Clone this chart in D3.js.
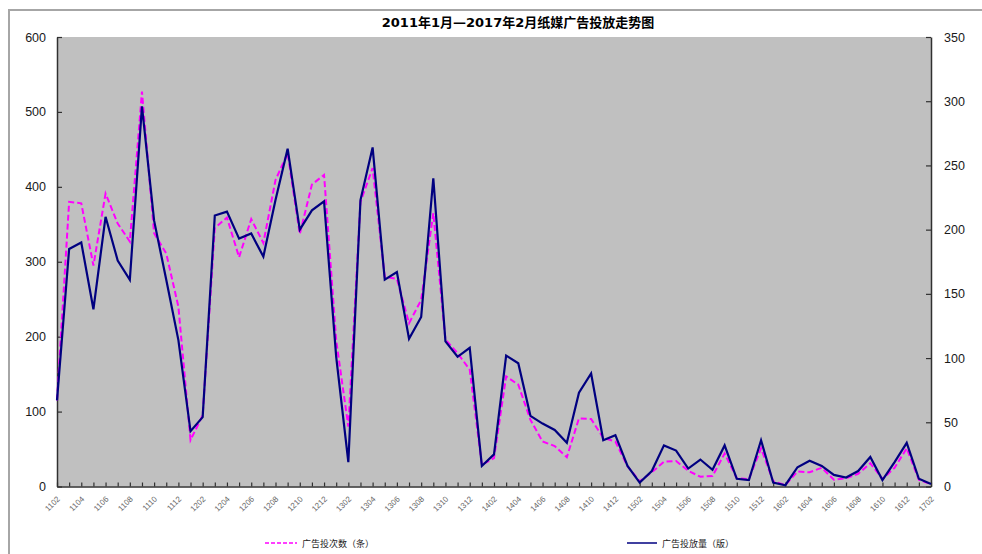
<!DOCTYPE html>
<html>
<head>
<meta charset="utf-8">
<script src="https://cdn.jsdelivr.net/npm/d3@7"></script>
<style>
  body { margin: 0; background: #fff; }
  svg { display: block; font-family: "DejaVu Sans", Verdana, sans-serif; }
</style>
</head>
<body>
<div id="chart"></div>
<script>
// Month labels (YYMM), 2011-02 .. 2017-02
const months = [
  "1102","1103","1104","1105","1106","1107","1108","1109","1110","1111","1112",
  "1201","1202","1203","1204","1205","1206","1207","1208","1209","1210","1211","1212",
  "1301","1302","1303","1304","1305","1306","1307","1308","1309","1310","1311","1312",
  "1401","1402","1403","1404","1405","1406","1407","1408","1409","1410","1411","1412",
  "1501","1502","1503","1504","1505","1506","1507","1508","1509","1510","1511","1512",
  "1601","1602","1603","1604","1605","1606","1607","1608","1609","1610","1611","1612",
  "1701","1702"
];

// 广告投次数（条） - left axis
const adCount = [
  115, 380, 378, 295, 391, 351, 327, 527, 338, 311, 240, 62,
  95, 345, 359, 306, 357, 325, 409, 445, 337, 403, 416, 195,
  80, 380, 425, 280, 277, 218, 249, 365, 196, 178, 156, 29,
  38, 147, 136, 89, 60, 54, 39, 91, 90, 65, 60, 27,
  7, 19, 33, 34, 21, 13, 14, 44, 11, 10, 51, 7,
  2, 20, 19, 25, 9, 11, 17, 31, 10, 25, 51, 9,
  3
];

// 广告投放量（版） - right axis
const adPages = [
  67, 185, 190, 138, 210, 176, 161, 296, 207, 161, 114, 43,
  54, 211, 214, 193, 197, 179, 223, 263, 200, 215, 222, 101,
  19, 223, 264, 161, 167, 115, 132, 240, 113, 101, 108, 16,
  25, 102, 96, 55, 49, 44, 34, 73, 88, 36, 40, 16,
  3, 12, 32, 28, 14, 21, 13, 32, 6, 5, 36, 3,
  1, 15, 20, 16, 9, 7, 12, 23, 5, 19, 34, 6,
  2
];

const leftTicks = [0, 100, 200, 300, 400, 500, 600];
const rightTicks = [0, 50, 100, 150, 200, 250, 300, 350];

const W = 982, H = 554;
const plot = { left: 57, right: 931, top: 37, bottom: 486.5 };

const svg = d3.select("#chart").append("svg")
  .attr("width", W)
  .attr("height", H);

// outer chart frame (runs past the picture edge)
svg.append("rect")
  .attr("x", 9).attr("y", 10)
  .attr("width", 1000).attr("height", 600)
  .attr("fill", "#fff")
  .attr("stroke", "#a6a6a6")
  .attr("stroke-width", 2);

// title
svg.append("text")
  .attr("x", 518).attr("y", 27)
  .attr("text-anchor", "middle")
  .style("font-size", "13px")
  .style("font-weight", "bold")
  .style("font-family", "'DejaVu Sans', 'Noto Sans CJK SC', sans-serif")
  .text("2011年1月—2017年2月纸媒广告投放走势图");

// plot area background
svg.append("rect")
  .attr("x", plot.left).attr("y", plot.top)
  .attr("width", plot.right - plot.left)
  .attr("height", plot.bottom - plot.top)
  .attr("fill", "#c0c0c0");

// scales
var x = d3.scalePoint()
  .domain(months)
  .range([plot.left, plot.right]);
var yLeft = d3.scaleLinear()
  .domain([0, 600])
  .range([plot.bottom, plot.top]);
var yRight = d3.scaleLinear()
  .domain([0, 350])
  .range([plot.bottom, plot.top]);

// left axis
var gl = svg.append("g")
  .attr("transform", "translate(" + plot.left + ",0)")
  .call(d3.axisLeft(yLeft).tickValues(leftTicks).tickSizeInner(-5).tickSizeOuter(0).tickPadding(11));
// right axis
var gr = svg.append("g")
  .attr("transform", "translate(" + plot.right + ",0)")
  .call(d3.axisRight(yRight).tickValues(rightTicks).tickSizeInner(-5).tickSizeOuter(0).tickPadding(13));
// bottom axis
var gb = svg.append("g")
  .attr("transform", "translate(0," + plot.bottom + ")")
  .call(d3.axisBottom(x).tickSizeInner(-4).tickSizeOuter(0)
    .tickFormat((d, i) => i % 2 == 0 ? d : ""));

[gl, gr, gb].forEach(g => {
  g.select(".domain").attr("stroke", "#303030").attr("stroke-width", 1.5);
  g.selectAll(".tick line").attr("stroke", "#303030").attr("stroke-width", 1.2);
});
[gl, gr].forEach(g => {
  g.selectAll(".tick text")
    .style("font-size", "12.5px")
    .attr("fill", "#1a1a1a");
});

gb.selectAll(".tick text")
  .style("font-size", "8px")
  .attr("fill", "#666")
  .attr("text-anchor", "end")
  .attr("dy", 0)
  .attr("transform", "translate(3,13) rotate(-45)")
  .attr("y", 0);

// lines
var lineLeft = d3.line()
  .x((d, i) => x(months[i]))
  .y(d => yLeft(d));
var lineRight = d3.line()
  .x((d, i) => x(months[i]))
  .y(d => yRight(d));

svg.append("path")
  .datum(adCount)
  .attr("fill", "none")
  .attr("stroke", "#ff00ff")
  .attr("stroke-width", 2)
  .attr("stroke-dasharray", "6,3")
  .attr("d", lineLeft);

svg.append("path")
  .datum(adPages)
  .attr("fill", "none")
  .attr("stroke", "#000080")
  .attr("stroke-width", 2.2)
  .attr("d", lineRight);

// legend
const legendFont = "'Noto Sans CJK SC', sans-serif";
var lg = svg.append("g");
lg.append("line")
  .attr("x1", 265).attr("x2", 297)
  .attr("y1", 543).attr("y2", 543)
  .attr("stroke", "#ff00ff")
  .attr("stroke-width", 1.5)
  .attr("stroke-dasharray", "4,2");
lg.append("text")
  .attr("x", 302).attr("y", 547)
  .style("font-size", "9px")
  .style("font-family", legendFont)
  .attr("fill", "#222")
  .text("广告投次数（条）");

lg.append("line")
  .attr("x1", 627).attr("x2", 657)
  .attr("y1", 543).attr("y2", 543)
  .attr("stroke", "#000080")
  .attr("stroke-width", 1.5);
lg.append("text")
  .attr("x", 662).attr("y", 547)
  .style("font-size", "9px")
  .style("font-family", legendFont)
  .attr("fill", "#222")
  .text("广告投放量（版）");
</script>
</body>
</html>
